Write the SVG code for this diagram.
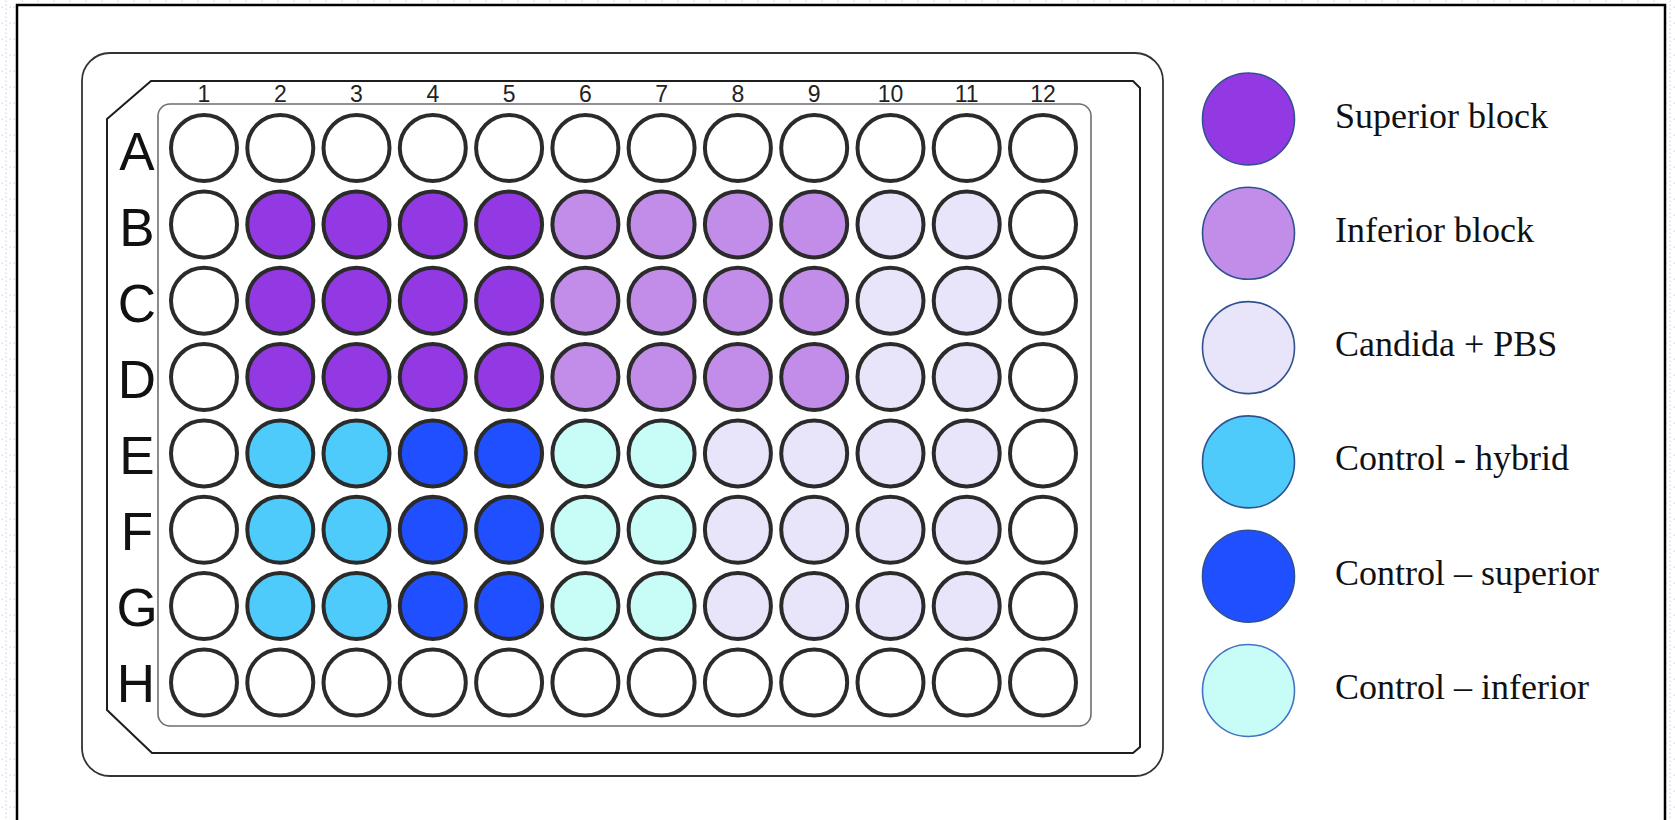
<svg xmlns="http://www.w3.org/2000/svg" width="1675" height="820" viewBox="0 0 1675 820">
<defs>
<pattern id="grid" width="16" height="16" patternUnits="userSpaceOnUse">
<rect x="5.4" y="0.5" width="1.4" height="1.4" fill="#dfcff5"/>
<rect x="5.4" y="4.5" width="1.4" height="1.4" fill="#dfcff5"/>
<rect x="5.4" y="8.5" width="1.4" height="1.4" fill="#dfcff5"/>
<rect x="5.4" y="12.5" width="1.4" height="1.4" fill="#dfcff5"/>
<rect x="1.4" y="6.4" width="1.4" height="1.4" fill="#dfcff5"/>
<rect x="9.4" y="6.4" width="1.4" height="1.4" fill="#dfcff5"/>
<rect x="13.4" y="6.4" width="1.4" height="1.4" fill="#dfcff5"/>
</pattern>
</defs>
<style>
.w{stroke:#2b2b2b;stroke-width:4}
.e{fill:#ffffff}
.sb{fill:#9339e3}
.ib{fill:#c28de8}
.cp{fill:#e8e4fa}
.ch{fill:#4fcbfb}
.cs{fill:#1f4ffe}
.ci{fill:#c7fcf7}
.lg{stroke:#2f528f;stroke-width:1.6}
.col{font-family:"Liberation Sans",Arial,sans-serif;font-size:23px;fill:#222;text-anchor:middle}
.row{font-family:"Liberation Sans",Arial,sans-serif;font-size:53px;fill:#111;text-anchor:middle}
.lt{font-family:"Liberation Serif","Times New Roman",serif;font-size:36px;fill:#111}
</style>
<rect x="0" y="0" width="1675" height="820" fill="#ffffff"/>
<rect x="0" y="0" width="1675" height="820" fill="url(#grid)"/>
<rect id="frame" x="17" y="5" width="1648" height="840" fill="#ffffff" stroke="#000" stroke-width="2.5"/>

<g id="plate">
<rect x="82" y="53" width="1081" height="723" rx="28" fill="#fff" stroke="#333" stroke-width="1.8"/>
<path d="M151,81 L1133,81 L1140,88 L1140,747 L1133,753 L152,753 L107,710 L107,119 Z" fill="#fff" stroke="#1e1e1e" stroke-width="2"/>
<rect x="158" y="104" width="933" height="622" rx="12" fill="#fff" stroke="#6e6e6e" stroke-width="1.6"/>
</g>

<g id="column-labels">
<text class="col" x="204" y="102">1</text>
<text class="col" x="280.3" y="102">2</text>
<text class="col" x="356.5" y="102">3</text>
<text class="col" x="432.8" y="102">4</text>
<text class="col" x="509.1" y="102">5</text>
<text class="col" x="585.4" y="102">6</text>
<text class="col" x="661.6" y="102">7</text>
<text class="col" x="737.9" y="102">8</text>
<text class="col" x="814.2" y="102">9</text>
<text class="col" x="890.5" y="102">10</text>
<text class="col" x="966.7" y="102">11</text>
<text class="col" x="1043" y="102">12</text>
</g>

<g id="row-labels">
<text class="row" x="137" y="170">A</text>
<text class="row" x="137" y="246">B</text>
<text class="row" x="137" y="322">C</text>
<text class="row" x="137" y="398">D</text>
<text class="row" x="137" y="474">E</text>
<text class="row" x="137" y="550">F</text>
<text class="row" x="137" y="626">G</text>
<text class="row" x="136" y="702">H</text>
</g>

<g id="row-A">
<circle id="A1" class="w e" cx="204" cy="148" r="33"/>
<circle id="A2" class="w e" cx="280.3" cy="148" r="33"/>
<circle id="A3" class="w e" cx="356.5" cy="148" r="33"/>
<circle id="A4" class="w e" cx="432.8" cy="148" r="33"/>
<circle id="A5" class="w e" cx="509.1" cy="148" r="33"/>
<circle id="A6" class="w e" cx="585.4" cy="148" r="33"/>
<circle id="A7" class="w e" cx="661.6" cy="148" r="33"/>
<circle id="A8" class="w e" cx="737.9" cy="148" r="33"/>
<circle id="A9" class="w e" cx="814.2" cy="148" r="33"/>
<circle id="A10" class="w e" cx="890.5" cy="148" r="33"/>
<circle id="A11" class="w e" cx="966.7" cy="148" r="33"/>
<circle id="A12" class="w e" cx="1043" cy="148" r="33"/>
</g>
<g id="row-B">
<circle id="B1" class="w e" cx="204" cy="224.4" r="33"/>
<circle id="B2" class="w sb" cx="280.3" cy="224.4" r="33"/>
<circle id="B3" class="w sb" cx="356.5" cy="224.4" r="33"/>
<circle id="B4" class="w sb" cx="432.8" cy="224.4" r="33"/>
<circle id="B5" class="w sb" cx="509.1" cy="224.4" r="33"/>
<circle id="B6" class="w ib" cx="585.4" cy="224.4" r="33"/>
<circle id="B7" class="w ib" cx="661.6" cy="224.4" r="33"/>
<circle id="B8" class="w ib" cx="737.9" cy="224.4" r="33"/>
<circle id="B9" class="w ib" cx="814.2" cy="224.4" r="33"/>
<circle id="B10" class="w cp" cx="890.5" cy="224.4" r="33"/>
<circle id="B11" class="w cp" cx="966.7" cy="224.4" r="33"/>
<circle id="B12" class="w e" cx="1043" cy="224.4" r="33"/>
</g>
<g id="row-C">
<circle id="C1" class="w e" cx="204" cy="300.7" r="33"/>
<circle id="C2" class="w sb" cx="280.3" cy="300.7" r="33"/>
<circle id="C3" class="w sb" cx="356.5" cy="300.7" r="33"/>
<circle id="C4" class="w sb" cx="432.8" cy="300.7" r="33"/>
<circle id="C5" class="w sb" cx="509.1" cy="300.7" r="33"/>
<circle id="C6" class="w ib" cx="585.4" cy="300.7" r="33"/>
<circle id="C7" class="w ib" cx="661.6" cy="300.7" r="33"/>
<circle id="C8" class="w ib" cx="737.9" cy="300.7" r="33"/>
<circle id="C9" class="w ib" cx="814.2" cy="300.7" r="33"/>
<circle id="C10" class="w cp" cx="890.5" cy="300.7" r="33"/>
<circle id="C11" class="w cp" cx="966.7" cy="300.7" r="33"/>
<circle id="C12" class="w e" cx="1043" cy="300.7" r="33"/>
</g>
<g id="row-D">
<circle id="D1" class="w e" cx="204" cy="377.1" r="33"/>
<circle id="D2" class="w sb" cx="280.3" cy="377.1" r="33"/>
<circle id="D3" class="w sb" cx="356.5" cy="377.1" r="33"/>
<circle id="D4" class="w sb" cx="432.8" cy="377.1" r="33"/>
<circle id="D5" class="w sb" cx="509.1" cy="377.1" r="33"/>
<circle id="D6" class="w ib" cx="585.4" cy="377.1" r="33"/>
<circle id="D7" class="w ib" cx="661.6" cy="377.1" r="33"/>
<circle id="D8" class="w ib" cx="737.9" cy="377.1" r="33"/>
<circle id="D9" class="w ib" cx="814.2" cy="377.1" r="33"/>
<circle id="D10" class="w cp" cx="890.5" cy="377.1" r="33"/>
<circle id="D11" class="w cp" cx="966.7" cy="377.1" r="33"/>
<circle id="D12" class="w e" cx="1043" cy="377.1" r="33"/>
</g>
<g id="row-E">
<circle id="E1" class="w e" cx="204" cy="453.4" r="33"/>
<circle id="E2" class="w ch" cx="280.3" cy="453.4" r="33"/>
<circle id="E3" class="w ch" cx="356.5" cy="453.4" r="33"/>
<circle id="E4" class="w cs" cx="432.8" cy="453.4" r="33"/>
<circle id="E5" class="w cs" cx="509.1" cy="453.4" r="33"/>
<circle id="E6" class="w ci" cx="585.4" cy="453.4" r="33"/>
<circle id="E7" class="w ci" cx="661.6" cy="453.4" r="33"/>
<circle id="E8" class="w cp" cx="737.9" cy="453.4" r="33"/>
<circle id="E9" class="w cp" cx="814.2" cy="453.4" r="33"/>
<circle id="E10" class="w cp" cx="890.5" cy="453.4" r="33"/>
<circle id="E11" class="w cp" cx="966.7" cy="453.4" r="33"/>
<circle id="E12" class="w e" cx="1043" cy="453.4" r="33"/>
</g>
<g id="row-F">
<circle id="F1" class="w e" cx="204" cy="529.8" r="33"/>
<circle id="F2" class="w ch" cx="280.3" cy="529.8" r="33"/>
<circle id="F3" class="w ch" cx="356.5" cy="529.8" r="33"/>
<circle id="F4" class="w cs" cx="432.8" cy="529.8" r="33"/>
<circle id="F5" class="w cs" cx="509.1" cy="529.8" r="33"/>
<circle id="F6" class="w ci" cx="585.4" cy="529.8" r="33"/>
<circle id="F7" class="w ci" cx="661.6" cy="529.8" r="33"/>
<circle id="F8" class="w cp" cx="737.9" cy="529.8" r="33"/>
<circle id="F9" class="w cp" cx="814.2" cy="529.8" r="33"/>
<circle id="F10" class="w cp" cx="890.5" cy="529.8" r="33"/>
<circle id="F11" class="w cp" cx="966.7" cy="529.8" r="33"/>
<circle id="F12" class="w e" cx="1043" cy="529.8" r="33"/>
</g>
<g id="row-G">
<circle id="G1" class="w e" cx="204" cy="606.1" r="33"/>
<circle id="G2" class="w ch" cx="280.3" cy="606.1" r="33"/>
<circle id="G3" class="w ch" cx="356.5" cy="606.1" r="33"/>
<circle id="G4" class="w cs" cx="432.8" cy="606.1" r="33"/>
<circle id="G5" class="w cs" cx="509.1" cy="606.1" r="33"/>
<circle id="G6" class="w ci" cx="585.4" cy="606.1" r="33"/>
<circle id="G7" class="w ci" cx="661.6" cy="606.1" r="33"/>
<circle id="G8" class="w cp" cx="737.9" cy="606.1" r="33"/>
<circle id="G9" class="w cp" cx="814.2" cy="606.1" r="33"/>
<circle id="G10" class="w cp" cx="890.5" cy="606.1" r="33"/>
<circle id="G11" class="w cp" cx="966.7" cy="606.1" r="33"/>
<circle id="G12" class="w e" cx="1043" cy="606.1" r="33"/>
</g>
<g id="row-H">
<circle id="H1" class="w e" cx="204" cy="682.5" r="33"/>
<circle id="H2" class="w e" cx="280.3" cy="682.5" r="33"/>
<circle id="H3" class="w e" cx="356.5" cy="682.5" r="33"/>
<circle id="H4" class="w e" cx="432.8" cy="682.5" r="33"/>
<circle id="H5" class="w e" cx="509.1" cy="682.5" r="33"/>
<circle id="H6" class="w e" cx="585.4" cy="682.5" r="33"/>
<circle id="H7" class="w e" cx="661.6" cy="682.5" r="33"/>
<circle id="H8" class="w e" cx="737.9" cy="682.5" r="33"/>
<circle id="H9" class="w e" cx="814.2" cy="682.5" r="33"/>
<circle id="H10" class="w e" cx="890.5" cy="682.5" r="33"/>
<circle id="H11" class="w e" cx="966.7" cy="682.5" r="33"/>
<circle id="H12" class="w e" cx="1043" cy="682.5" r="33"/>
</g>

<g id="legend-superior-block">
<circle class="lg sb" cx="1248.5" cy="119" r="46"/>
<text class="lt" x="1335" y="128">Superior block</text>
</g>
<g id="legend-inferior-block">
<circle class="lg ib" cx="1248.5" cy="233.3" r="46"/>
<text class="lt" x="1335" y="242">Inferior block</text>
</g>
<g id="legend-candida-pbs">
<circle class="lg cp" cx="1248.5" cy="347.6" r="46"/>
<text class="lt" x="1335" y="356">Candida + PBS</text>
</g>
<g id="legend-control-hybrid">
<circle class="lg ch" cx="1248.5" cy="461.9" r="46"/>
<text class="lt" x="1335" y="470">Control - hybrid</text>
</g>
<g id="legend-control-superior">
<circle class="lg cs" cx="1248.5" cy="576.2" r="46"/>
<text class="lt" x="1335" y="585">Control – superior</text>
</g>
<g id="legend-control-inferior">
<circle class="ci" cx="1248.5" cy="690.5" r="46" stroke="#4472c4" stroke-width="1.6"/>
<text class="lt" x="1335" y="699">Control – inferior</text>
</g>
</svg>
